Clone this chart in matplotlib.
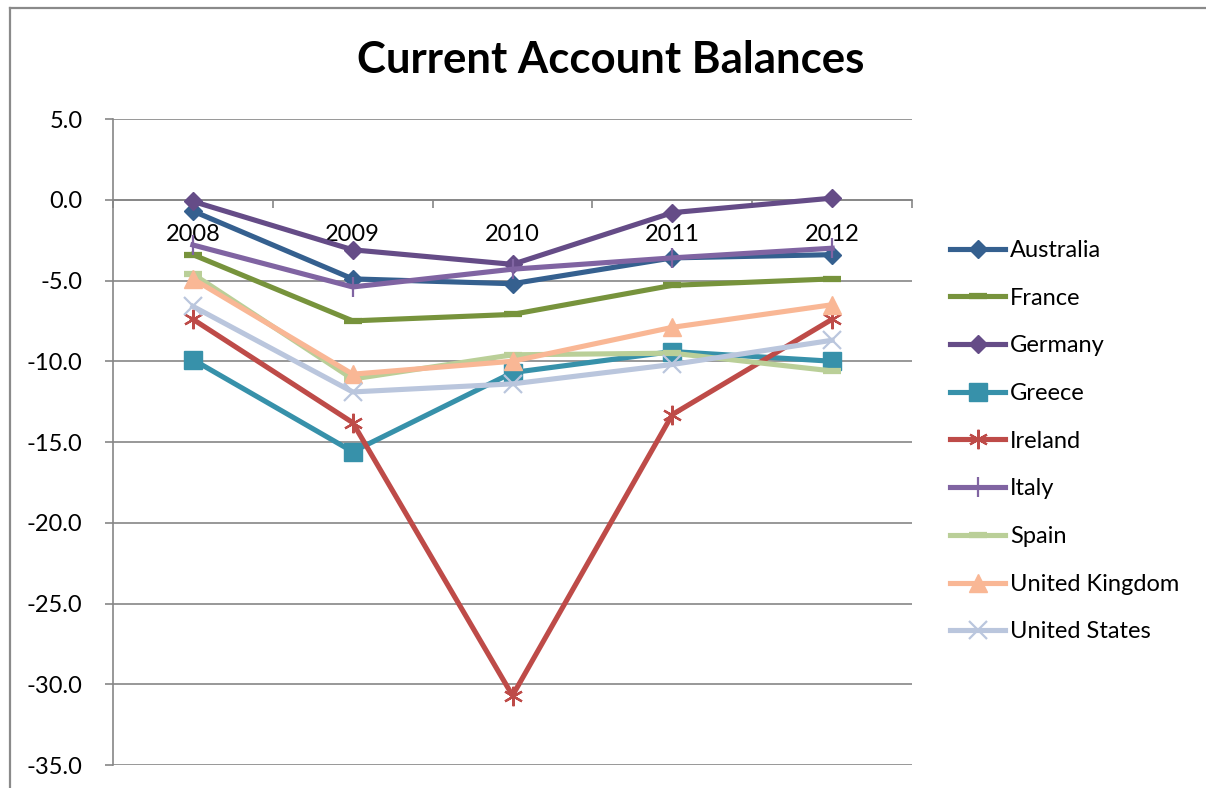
import matplotlib
matplotlib.use("Agg")
import matplotlib.pyplot as plt
from matplotlib.lines import Line2D
import numpy as np

plt.rcParams['font.family'] = ['Lato', 'DejaVu Sans']

years = ['2008', '2009', '2010', '2011', '2012']

australia = [-0.7, -4.9, -5.2, -3.6, -3.4]
france = [-3.4, -7.5, -7.1, -5.3, -4.9]
germany = [-0.1, -3.1, -4.0, -0.8, 0.1]
greece = [-9.9, -15.6, -10.7, -9.4, -10.0]
ireland = [-7.4, -13.8, -30.7, -13.3, -7.4]
italy = [-2.8, -5.4, -4.3, -3.6, -3.0]
spain = [-4.6, -11.1, -9.6, -9.5, -10.6]
united_kingdom = [-4.9, -10.8, -10.0, -7.9, -6.5]
united_states = [-6.6, -11.9, -11.4, -10.2, -8.7]

W, H = 1206, 788
fig = plt.figure(figsize=(W / 100, H / 100), dpi=100)
ax = fig.add_axes([113 / W, 1 - 765 / H, (912 - 113) / W, (765 - 119) / H])

x = np.arange(len(years))
grid_c = '#868686'

# name, data, colour, marker, markersize, markeredgewidth
series = [
    ('Australia', australia, '#35608F', 'D', 9, 1),
    ('France', france, '#77933C', '_', 13, 4.5),
    ('Germany', germany, '#654C87', 'D', 9, 1),
    ('Greece', greece, '#3791AA', 's', 13, 1),
    ('Ireland', ireland, '#BE4B48', (6, 2, 0), 14, 1.6),
    ('Italy', italy, '#8064A2', '|', 14, 1.6),
    ('Spain', spain, '#BACF98', '_', 13, 4.5),
    ('United Kingdom', united_kingdom, '#F9B795', '^', 13, 1),
    ('United States', united_states, '#BAC6DD', 'x', 13, 1.6),
]

handles = []
for name, vals, col, mk, ms, mew in series:
    ln, = ax.plot(x, vals, color=col, lw=3.7, marker=mk, ms=ms, mew=mew,
                  mec=col, mfc=col, label=name, zorder=3, clip_on=False)
    handles.append(ln)

ax.set_xlim(-0.5, 4.5)
ax.set_ylim(-35, 5)
ax.set_yticks(np.arange(-35, 6, 5))
ax.set_yticklabels([f'{v:.1f}' for v in np.arange(-35, 6, 5)])
ax.yaxis.grid(True, color=grid_c, lw=1.2)
ax.set_axisbelow(True)

for s in ['top', 'right']:
    ax.spines[s].set_visible(False)
ax.spines['left'].set_color(grid_c)
ax.spines['left'].set_linewidth(1.2)
ax.spines['bottom'].set_position(('data', 0))
ax.spines['bottom'].set_color(grid_c)
ax.spines['bottom'].set_linewidth(1.2)

ax.set_xticks(x)
ax.set_xticklabels(years)
ax.set_xticks(np.arange(-0.5, 5, 1), minor=True)
ax.tick_params(axis='x', which='major', length=0, pad=17.5, labelsize=17)
ax.tick_params(axis='x', which='minor', length=5.5, width=1.2, color=grid_c, direction='out')
ax.tick_params(axis='y', length=5.5, width=1.2, color=grid_c, pad=16.5, labelsize=17)

fig.text(611 / W, 1 - 60 / H, 'Current Account Balances', ha='center', va='center',
         fontsize=31.5, fontweight='bold')

fig.legend(handles=handles, loc='upper left', bbox_to_anchor=(950 / W, 1 - 240 / H),
           frameon=False, fontsize=17, handlelength=2.35, handletextpad=0.2,
           labelspacing=1.13, borderpad=0, borderaxespad=0)

# outer chart frame (top and left edges visible)
fig.add_artist(Line2D([9.5 / W, 9.5 / W], [0, 1 - 8 / H], color='#8a8a8a', lw=1.6,
                      transform=fig.transFigure))
fig.add_artist(Line2D([9.5 / W, 1], [1 - 8 / H, 1 - 8 / H], color='#8a8a8a', lw=1.6,
                      transform=fig.transFigure))

fig.savefig('out.png', dpi=100)
